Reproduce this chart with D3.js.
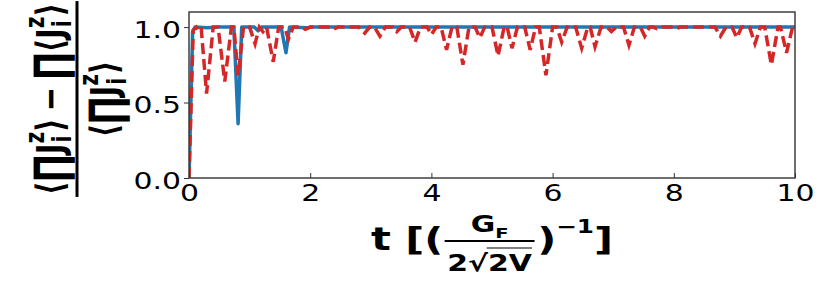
<!DOCTYPE html>
<html>
<head>
<meta charset="utf-8">
<script src="https://cdn.jsdelivr.net/npm/d3@7"></script>
<style>
  body { margin: 0; background: #fff; }
  svg { display: block; }
  text { font-family: "DejaVu Sans", sans-serif; }
</style>
</head>
<body>
<div id="chart"></div>
<script>
// series
var blueT = [0, 0.06, 0.1, 0.3, 0.5, 0.74, 0.81, 0.87, 1.08, 1.14, 1.2, 1.52, 1.6, 1.66, 1.95, 2.0, 3.0, 4.0, 5.0, 6.0, 7.0, 8.0, 9.0, 10];
var blueV = [0, 0.97, 1.0, 0.995, 1.0, 1.0, 0.36, 1.0, 1.0, 0.975, 1.0, 1.0, 0.83, 1.0, 0.995, 1.0, 1.0, 1.0, 1.0, 1.0, 1.0, 1.0, 1.0, 1.0];

var redT = [0, 0.07, 0.12, 0.16, 0.2, 0.29, 0.4, 0.48, 0.59, 0.7, 0.74, 0.81, 0.9, 1.0, 1.09, 1.16, 1.22, 1.28, 1.39, 1.48,
            1.58, 1.64, 1.72, 1.85, 1.92, 2.0, 2.3, 2.38, 2.46, 2.8, 2.9, 2.98, 3.06, 3.15, 3.24, 3.36, 3.43, 3.5,
            3.64, 3.73, 3.82, 3.93, 4.0, 4.08, 4.16, 4.25, 4.34, 4.42, 4.52, 4.62, 4.72, 4.8, 4.88, 5.0, 5.1, 5.2,
            5.25, 5.33, 5.42, 5.54, 5.63, 5.72, 5.78, 5.89, 6.0, 6.07, 6.15, 6.24, 6.38, 6.48, 6.58, 6.62, 6.7, 6.8,
            6.9, 6.97, 7.05, 7.17, 7.26, 7.35, 7.45, 7.52, 7.6, 7.66, 7.72, 7.8, 8.0, 8.05, 8.1, 8.68, 8.77, 8.86,
            8.96, 9.04, 9.12, 9.25, 9.34, 9.43, 9.5, 9.61, 9.72, 9.76, 9.86, 9.96, 10];
var redV = [0, 0.98, 1.0, 0.98, 1.0, 0.56, 1.0, 1.0, 0.64, 1.0, 1.0, 0.68, 1.0, 1.0, 0.89, 1.0, 0.97, 1.0, 0.77, 1.0,
            1.0, 0.92, 1.0, 1.0, 0.985, 1.0, 1.0, 0.985, 1.0, 1.0, 0.96, 1.0, 1.0, 0.94, 1.0, 1.0, 0.97, 1.0,
            1.0, 0.90, 1.0, 1.0, 0.95, 1.0, 1.0, 0.85, 1.0, 1.0, 0.75, 1.0, 1.0, 0.93, 1.0, 1.0, 0.81, 1.0,
            1.0, 0.86, 1.0, 1.0, 0.85, 1.0, 1.0, 0.68, 1.0, 1.0, 0.90, 1.0, 1.0, 0.86, 1.0, 1.0, 0.87, 1.0,
            1.0, 0.97, 1.0, 1.0, 0.88, 1.0, 1.0, 0.94, 1.0, 1.0, 0.99, 1.0, 1.0, 0.99, 1.0, 1.0, 0.94, 1.0,
            1.0, 0.93, 1.0, 1.0, 0.89, 1.0, 1.0, 0.75, 1.0, 1.0, 0.83, 1.0, 1.0];

var xTicks = [0, 2, 4, 6, 8, 10];
var yTicks = [0, 0.5, 1.0];
var yTickLabels = ["0.0", "0.5", "1.0"];

var svgWidth = 830, svgHeight = 291;
var margin = { top: 12, right: 35, bottom: 113, left: 189 };
var width = svgWidth - margin.left - margin.right;
var height = svgHeight - margin.top - margin.bottom;
var stretch = 1.3; // the picture's text is wider than it is tall

var svg = d3.select("#chart").append("svg")
  .attr("width", svgWidth)
  .attr("height", svgHeight);

var chartGroup = svg.append("g")
  .attr("transform", `translate(${margin.left}, ${margin.top})`);

var xScale = d3.scaleLinear().domain([0, 10]).range([0, width]);
var yScale = d3.scaleLinear().domain([0, 1.1]).range([height, 0]);

svg.append("clipPath").attr("id", "plotclip")
  .append("rect").attr("x", 0).attr("y", 0).attr("width", width).attr("height", height);

var blueData = blueT.map((t, i) => [t, blueV[i]]);
var redData = redT.map((t, i) => [t, redV[i]]);

var line = d3.line().x(d => xScale(d[0])).y(d => yScale(d[1]));

var lines = chartGroup.append("g").attr("clip-path", "url(#plotclip)");
lines.append("path")
  .attr("d", line(blueData))
  .attr("fill", "none")
  .attr("stroke", "#1f77b4")
  .attr("stroke-width", 3.5)
  .attr("stroke-linejoin", "round");
lines.append("path")
  .attr("d", line(redData))
  .attr("fill", "none")
  .attr("stroke", "#d62728")
  .attr("stroke-width", 3.5)
  .attr("stroke-dasharray", "11,5");

// axes
var xAxis = d3.axisBottom(xScale).tickValues(xTicks).tickFormat(d3.format("d"))
  .tickSizeInner(-5).tickSizeOuter(0).tickPadding(7);
var gx = chartGroup.append("g").attr("transform", `translate(0, ${height})`).call(xAxis);
gx.select(".domain").remove();
gx.selectAll("line").attr("stroke", "#333").attr("stroke-width", 1);
gx.selectAll("text")
  .attr("font-size", 23)
  .attr("fill", "#000")
  .attr("transform", `scale(${stretch},1)`);

var yAxis = d3.axisLeft(yScale).tickValues(yTicks).tickFormat((d, i) => yTickLabels[i])
  .tickSizeInner(5).tickSizeOuter(0);
var gy = chartGroup.append("g").call(yAxis);
gy.select(".domain").remove();
gy.selectAll("line").attr("stroke", "#333").attr("stroke-width", 1);
gy.selectAll("text")
  .attr("font-size", 23)
  .attr("fill", "#000")
  .attr("x", -8 / stretch)
  .attr("dy", "0.45em")
  .attr("transform", `scale(${stretch},1)`);

chartGroup.append("rect")
  .attr("width", width).attr("height", height)
  .attr("fill", "none").attr("stroke", "#333").attr("stroke-width", 1.4);

// small helper for the mathtext labels
function run(g, x, y, str, fs) {
  var t = g.append("text").attr("x", x).attr("y", y)
    .attr("font-size", fs).attr("font-weight", "bold").text(str);
  return t.node().getComputedTextLength();
}
function scripts(g, x, y, sup, sub, fs) {
  var a = run(g, x, y - fs * 0.5, sup, fs * 0.7);
  var b = run(g, x + 1, y + fs * 0.22, sub, fs * 0.7);
  return Math.max(a, b + 1);
}
function expect(g, x, y, fs) { // <PROD J_i^z>
  var w = 0;
  w += run(g, x + w, y, "\u27E8", fs);
  w += run(g, x + w, y + fs * 0.1, "\u220F", fs * 1.2);
  w += run(g, x + w, y, "J", fs);
  w += scripts(g, x + w, y, "z", "i", fs);
  w += run(g, x + w, y, "\u27E9", fs);
  return w;
}
function prodOfExpect(g, x, y, fs) { // PROD <J_i^z>
  var w = 0;
  w += run(g, x + w, y + fs * 0.1, "\u220F", fs * 1.2);
  w += run(g, x + w, y, "\u27E8", fs);
  w += run(g, x + w, y, "J", fs);
  w += scripts(g, x + w, y, "z", "i", fs);
  w += run(g, x + w, y, "\u27E9", fs);
  return w;
}

// y label (rotated fraction)
var F = 29;
var yl = svg.append("g")
  .attr("transform", `translate(77, 99) scale(${stretch},1) rotate(-90)`);
var num = yl.append("g");
var nw = 0;
nw += expect(num, nw, 0, F);
nw += F * 0.25;
nw += run(num, nw, 0, "\u2212", F);
nw += F * 0.25;
nw += prodOfExpect(num, nw, 0, F);
num.attr("transform", `translate(${-nw / 2}, -11)`);
var den = yl.append("g");
var dw = expect(den, 0, 0, F);
den.attr("transform", `translate(${-dw / 2}, 31)`);
var fl = Math.max(nw, dw) + 4;
yl.append("line").attr("x1", -fl / 2).attr("x2", fl / 2).attr("y1", 0).attr("y2", 0)
  .attr("stroke", "#000").attr("stroke-width", 3 / stretch);

// x label
var XF = 32, FF = 23;
var xl = svg.append("g");
var xw = 0;
xw += run(xl, xw, 0, "t [(", XF);
var fx = xw + 1;
var ng = xl.append("g");
var gw = run(ng, 0, 0, "G", FF);
gw += run(ng, gw, 6, "F", FF * 0.65);
var dg = xl.append("g");
var d1 = run(dg, 0, 0, "2", FF);
var d2 = run(dg, d1, 0, "\u221A", FF);
var d3w = run(dg, d1 + d2, 0, "2V", FF);
var denW = d1 + d2 + d3w;
dg.append("line").attr("x1", d1 + d2 - 1).attr("x2", denW).attr("y1", -FF * 1.0).attr("y2", -FF * 1.0)
  .attr("stroke", "#000").attr("stroke-width", 1.2);
var fw = Math.max(gw, denW) + 4;
ng.attr("transform", `translate(${fx + (fw - gw) / 2}, -18)`);
dg.attr("transform", `translate(${fx + (fw - denW) / 2}, 21)`);
xl.append("line").attr("x1", fx).attr("x2", fx + fw).attr("y1", -9).attr("y2", -9)
  .attr("stroke", "#000").attr("stroke-width", 2);
xw = fx + fw + 2;
xw += run(xl, xw, 0, ")", XF);
xw += run(xl, xw, -17, "\u22121", 19);
xw += run(xl, xw, 0, "]", XF);
var cx = margin.left + width / 2;
xl.attr("transform", `translate(${cx - stretch * xw / 2}, 250) scale(${stretch},1)`);
</script>
</body>
</html>
